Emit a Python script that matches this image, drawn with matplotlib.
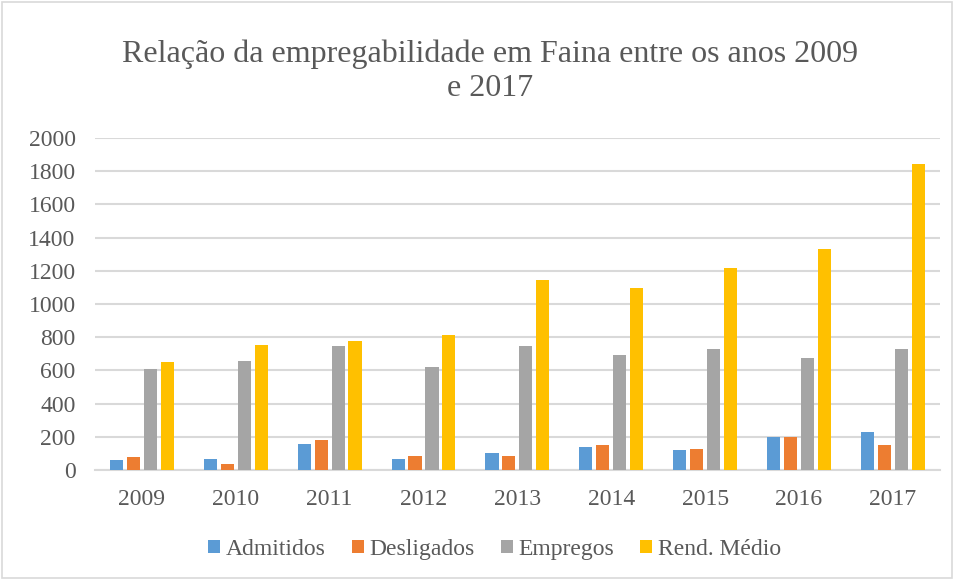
import numpy as np
import matplotlib
matplotlib.use("Agg")
import matplotlib.pyplot as plt
from matplotlib.patches import Rectangle

plt.rcParams['font.family'] = ['Liberation Serif', 'DejaVu Serif']

anos = ['2009', '2010', '2011', '2012', '2013', '2014', '2015', '2016', '2017']
admitidos = [60, 66, 154, 68, 100, 136, 118, 200, 226]
desligados = [78, 38, 180, 84, 84, 150, 124, 198, 150]
empregos = [608, 654, 746, 618, 748, 694, 728, 672, 728]
rend_medio = [650, 750, 778, 810, 1146, 1098, 1216, 1332, 1840]

series = [admitidos, desligados, empregos, rend_medio]
labels = ['Admitidos', 'Desligados', 'Empregos', 'Rend. Médio']
color = ['#5B9BD5', '#ED7D31', '#A5A5A5', '#FFC000']
txt = '#595959'

fig = plt.figure(figsize=(9.55, 5.8), dpi=100)
ax = fig.add_axes([0.0995, 0.1897, 0.8845, 0.5725])

index = np.arange(len(anos))
bar_width = 0.14
step = 0.18
for i, vals in enumerate(series):
    ax.bar(index + (i - 1.5) * step, vals, bar_width, color=color[i],
           label=labels[i], zorder=3)

ax.set_xlim(-0.5, len(anos) - 0.5)
ax.set_ylim(0, 2000)
ax.set_yticks(np.arange(0, 2001, 200))
ax.set_xticks(index)
ax.set_xticklabels(anos)
ax.tick_params(axis='both', length=0, labelsize=17, colors=txt)
ax.tick_params(axis='x', pad=14)
ax.tick_params(axis='y', pad=14)
ax.yaxis.grid(True, color='#D9D9D9', linewidth=1.5, zorder=0)
for s in ['top', 'left', 'right']:
    ax.spines[s].set_visible(False)
ax.spines['bottom'].set_color('#D9D9D9')
ax.spines['bottom'].set_linewidth(1.5)

fig.text(0.513, 0.877, 'Relação da empregabilidade em Faina entre os anos 2009\ne 2017',
         ha='center', va='center', fontsize=23, color=txt, linespacing=1.2)

leg = fig.legend(loc='center', bbox_to_anchor=(0.518, 0.053), ncol=4, frameon=False,
                 fontsize=17, handlelength=0.5, handleheight=0.5, handletextpad=0.25,
                 columnspacing=1.1)
for t in leg.get_texts():
    t.set_color(txt)

fig.patches.append(Rectangle((0.002, 0.003), 0.995, 0.993, transform=fig.transFigure,
                             fill=False, edgecolor='#D9D9D9', linewidth=1.2))

plt.savefig('out.png', dpi=100)
